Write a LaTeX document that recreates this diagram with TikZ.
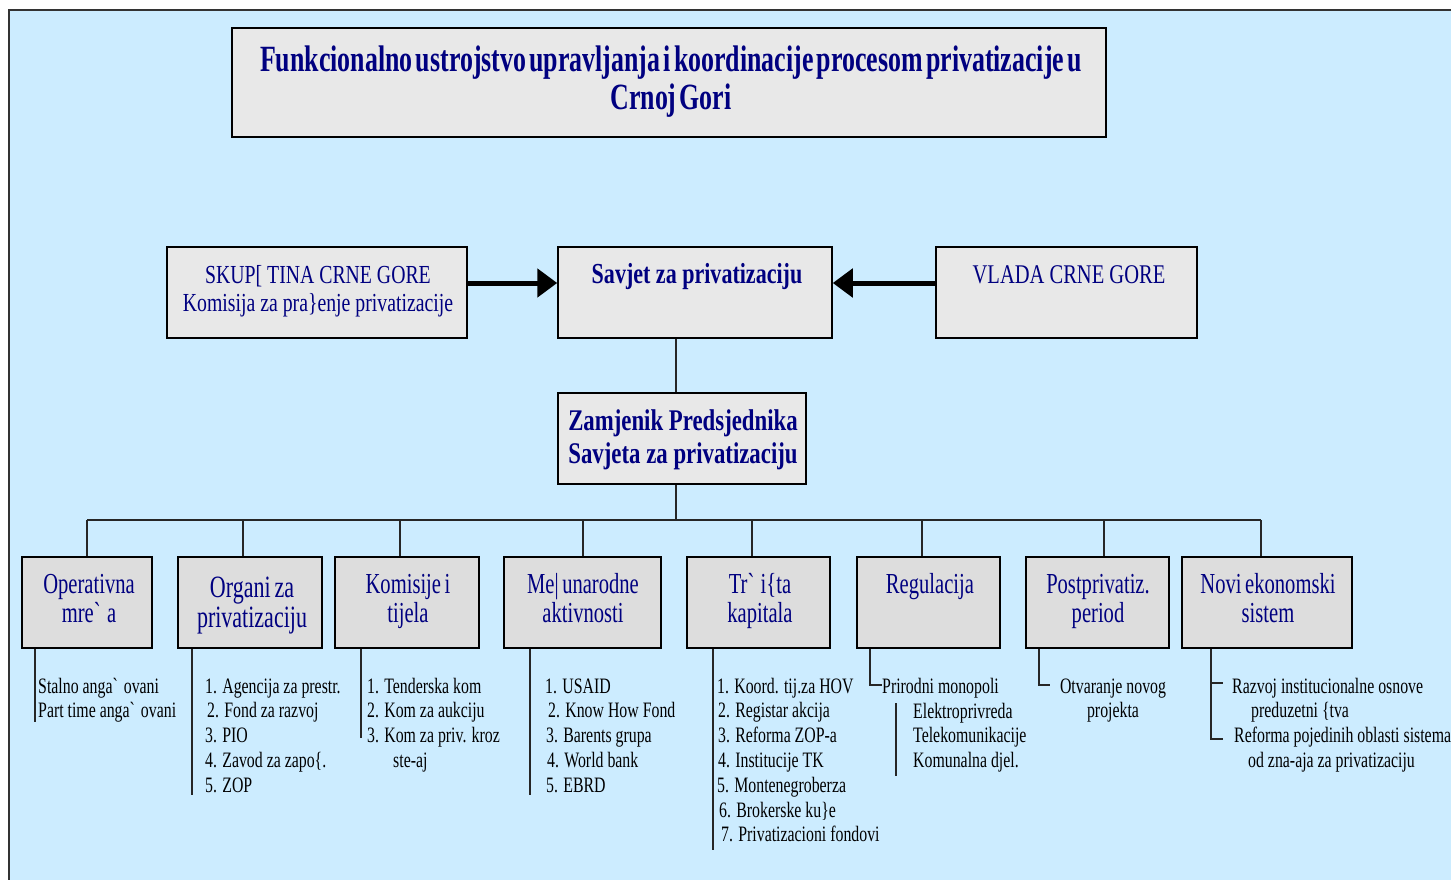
\documentclass[tikz,border=0pt]{standalone}
\usepackage{fontspec}
\setmainfont{Liberation Serif}[FakeStretch=0.76]
\newfontfamily\titlefont{Liberation Serif}[FakeStretch=0.7, WordSpace=0.5]
\newfontfamily\boxfont{Liberation Serif}[FakeStretch=0.71, WordSpace=0.7]
\newfontfamily\listfont{Liberation Serif}[FakeStretch=0.72]
\usetikzlibrary{arrows.meta}
\definecolor{bgblue}{HTML}{CCECFF}
\definecolor{boxgray}{HTML}{E8E8E8}
\definecolor{lowgray}{HTML}{DDDDDD}
\definecolor{navy}{HTML}{000080}
\begin{document}
\begin{tikzpicture}[x=1pt,y=-1pt,
  box/.style={draw=black, line width=1.5pt, fill=boxgray, inner sep=0pt, minimum height=91pt},
  lowbox/.style={box, fill=lowgray},
  boxtext/.style={anchor=base, align=center, inner sep=0pt, text=navy},
  toptext/.style={boxtext, font=\fontsize{26}{28}\selectfont},
  lowtext/.style={boxtext, font=\boxfont\fontsize{29}{29}\selectfont},
  listtext/.style={anchor=base west, align=left, inner sep=0pt, text=black, font=\listfont\fontsize{22}{24.8}\selectfont},
  conn/.style={draw=black!85, line width=1.1pt},
  bigarrow/.style={draw=black, line width=5pt, -{Triangle[length=20pt,width=28pt]}}]
\useasboundingbox (0,0) rectangle (1451,880);
\fill[white] (0,0) rectangle (1451,880);
\filldraw[fill=bgblue, draw=black!80, line width=2pt] (9,10) rectangle (1470,900);

% title
\node[box, minimum width=874pt, minimum height=109pt] (title) at (669,82.5) {};
\node[boxtext, font=\titlefont\bfseries\fontsize{37}{38}\selectfont] (titlet) at (671,110)
  {Funkcionalno ustrojstvo upravljanja i koordinacije procesom privatizacije u\\Crnoj Gori};

% top row
\node[box, minimum width=300pt] (skup) at (317,292.5) {};
\node[toptext] (skupt) at (318,311) {SKUP[ TINA CRNE GORE\\Komisija za pra\}enje privatizacije};
\node[box, minimum width=274pt] (sav) at (695,292.5) {};
\node[boxtext, font=\bfseries\fontsize{29}{30}\selectfont] (savt) at (697,283) {Savjet za privatizaciju};
\node[box, minimum width=261pt] (vlada) at (1066.5,292.5) {};
\node[toptext, font=\fontsize{27}{28}\selectfont] (vladat) at (1069,283) {VLADA CRNE GORE};

\draw[bigarrow] (skup.east |- 0,283) -- (sav.west |- 0,283);
\draw[bigarrow] (vlada.west |- 0,283) -- (sav.east |- 0,283);

% deputy
\node[box, minimum width=248pt] (zam) at (682,438.5) {};
\node[boxtext, font=\bfseries\fontsize{30}{33}\selectfont] (zamt) at (683,463) {Zamjenik Predsjednika\\Savjeta za privatizaciju};
\draw[conn] (sav.south -| 676,0) -- (zam.north -| 676,0);

% bus
\coordinate (bus) at (676,520);
\coordinate (busL) at (87,520);
\coordinate (busR) at (1261,520);
\draw[conn] (zam.south -| 676,0) -- (bus);
\draw[conn] (busL) -- (busR);

% lower boxes
\node[lowbox, minimum width=130pt] (b1) at (87,602.5) {};
\node[lowbox, minimum width=144pt] (b2) at (250,602.5) {};
\node[lowbox, minimum width=144pt] (b3) at (407,602.5) {};
\node[lowbox, minimum width=157pt] (b4) at (582.5,602.5) {};
\node[lowbox, minimum width=143pt] (b5) at (758.5,602.5) {};
\node[lowbox, minimum width=143pt] (b6) at (928.5,602.5) {};
\node[lowbox, minimum width=143pt] (b7) at (1097.5,602.5) {};
\node[lowbox, minimum width=170pt] (b8) at (1267,602.5) {};

\node[lowtext] (b1t) at (89,622) {Operativna\\mre\textasciigrave{} a};
\node[boxtext, font=\boxfont\fontsize{31}{30}\selectfont] (b2t) at (252,627) {Organi za\\privatizaciju};
\node[lowtext] (b3t) at (408,622) {Komisije i\\tijela};
\node[lowtext] (b4t) at (583,622) {Me| unarodne\\aktivnosti};
\node[lowtext] (b5t) at (760,622) {Tr\textasciigrave{} i\{ta\\kapitala};
\node[lowtext] (b6t) at (930,593) {Regulacija};
\node[lowtext] (b7t) at (1098,622) {Postprivatiz.\\period};
\node[lowtext] (b8t) at (1268,622) {Novi ekonomski\\sistem};

\draw[conn] (b1.north -| 87,0) |- (busL);
\draw[conn] (b2.north -| 243,0) |- (bus);
\draw[conn] (b3.north -| 400,0) |- (bus);
\draw[conn] (b4.north -| 583,0) |- (bus);
\draw[conn] (b5.north -| 752,0) |- (bus);
\draw[conn] (b6.north -| 922,0) |- (bus);
\draw[conn] (b7.north -| 1104,0) |- (bus);
\draw[conn] (b8.north -| 1261,0) |- (busR);

% lists (anchor = baseline of last line)
\node[listtext] (l1) at (38,717.8) {Stalno anga\textasciigrave{} ovani\\Part time anga\textasciigrave{} ovani};
\draw[conn] (b1.south -| 35,0) -- (35,722);

\node[listtext] (l2) at (205,792.2) {1. Agencija za prestr.\\\hspace*{2pt}2. Fond za razvoj\\3. PIO\\4. Zavod za zapo\{.\\5. ZOP};
\draw[conn] (b2.south -| 192,0) -- (192,795);

\node[listtext] (l3) at (367,767.4) {1. Tenderska kom\\2. Kom za aukciju\\3. Kom za priv. kroz\\\hspace*{26pt}ste-aj};
\draw[conn] (b3.south -| 361,0) -- (361,738);

\node[listtext] (l4) at (545,792.2) {1. USAID\\\hspace*{3pt}2. Know How Fond\\\hspace*{1pt}3. Barents grupa\\\hspace*{2pt}4. World bank\\\hspace*{1pt}5. EBRD};
\draw[conn] (b4.south -| 530,0) -- (530,795);

\node[listtext] (l5) at (717,841.8) {1. Koord. tij.za HOV\\\hspace*{1pt}2. Registar akcija\\\hspace*{1pt}3. Reforma ZOP-a\\\hspace*{1pt}4. Institucije TK\\5. Montenegroberza\\\hspace*{2pt}6. Brokerske ku\}e\\\hspace*{4pt}7. Privatizacioni fondovi};
\draw[conn] (b5.south -| 713,0) -- (713,850);

\node[listtext] (l6a) at (882,693) {Prirodni monopoli};
\node[listtext] (l6b) at (913,767.6) {Elektroprivreda\\Telekomunikacije\\Komunalna djel.};
\coordinate (c6) at (882,685);
\draw[conn] (b6.south -| 870,0) |- (c6);
\draw[conn] (896,703) -- (896,776);

\node[listtext, anchor=base, align=center] (l7) at (1113,717.8) {Otvaranje novog\\projekta};
\coordinate (c7) at (1050,685);
\draw[conn] (b7.south -| 1039,0) |- (c7);

\node[listtext] (l8a) at (1232,717.8) {Razvoj institucionalne osnove\\\hspace*{19pt}preduzetni \{tva};
\node[listtext] (l8b) at (1234,767.6) {Reforma pojedinih oblasti sistema\\\hspace*{14pt}od zna-aja za privatizaciju};
\coordinate (c8a) at (1223,683);
\coordinate (c8b) at (1223,739);
\draw[conn] (b8.south -| 1211,0) |- (c8b);
\draw[conn] (1211,683) -- (c8a);
\end{tikzpicture}
\end{document}
